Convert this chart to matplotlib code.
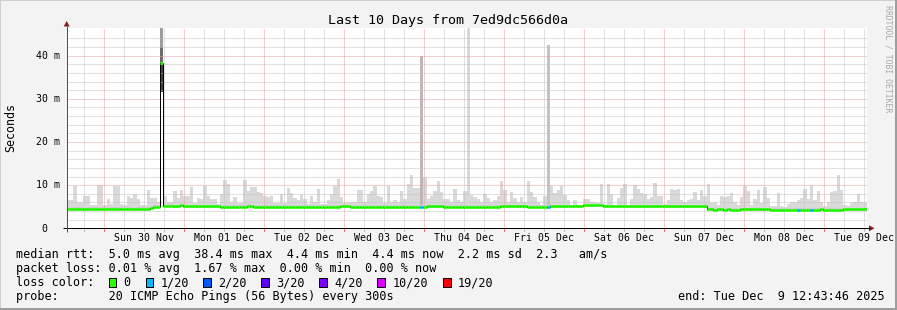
import matplotlib
matplotlib.use("Agg")
import matplotlib.pyplot as plt
from matplotlib.patches import Rectangle, Polygon
import matplotlib.transforms as mtransforms

plt.rcParams['font.family'] = ['DejaVu Sans Mono', 'DejaVu Sans']

# ---------------- data ----------------
title = "Last 10 Days from 7ed9dc566d0a"
day_labels = ["Sun 30 Nov", "Mon 01 Dec", "Tue 02 Dec", "Wed 03 Dec", "Thu 04 Dec",
              "Fri 05 Dec", "Sat 06 Dec", "Sun 07 Dec", "Mon 08 Dec", "Tue 09 Dec"]
first_midnight_h = 11.27   # hours after start (start = Sat Nov 29 12:43:46)
ytick_values = [0, 10, 20, 30, 40]
ytick_labels = ["0", "10 m", "20 m", "30 m", "40 m"]

# hourly smoke top (ms), 240 bins
smoke_top_a = [6.5, 6.5, 9.7, 6.2, 6.2, 7.6, 7.6, 5.3, 5.3, 10.1, 10.1, 5.3, 6.7, 5.7, 9.7, 9.7,
               5.7, 5.5, 7.4, 7.1, 8.0, 6.7, 5.5, 5.5, 8.8, 7.0, 7.0, 6.2, 46.4, 7.6, 6.2, 6.2,
               8.6, 7.0, 8.8, 7.4, 7.4, 9.6, 5.9, 7.0, 6.9, 9.9, 7.6, 6.9, 6.9, 5.7, 8.0, 11.1]
smoke_top_b = [10.3, 6.1, 7.2, 5.9, 5.9, 11.1, 8.6, 9.6, 9.6, 8.4, 8.2, 7.4, 7.2, 7.6, 5.9, 5.9,
               8.0, 5.9, 9.4, 8.2, 7.0, 6.5, 7.8, 6.7, 5.7, 7.6, 6.1, 9.0, 5.7, 5.7, 6.5, 8.0,
               9.9, 11.5, 7.2, 5.9, 6.1, 6.2, 6.1, 8.8, 8.9, 6.1, 8.0, 8.6, 9.7, 7.4, 7.2, 5.9]
smoke_top_c = [9.8, 6.2, 6.5, 6.1, 8.6, 6.9, 10.3, 12.3, 9.3, 9.3, 40.0, 11.9, 6.9, 7.6, 8.6, 10.9,
               8.4, 6.9, 6.7, 6.2, 9.0, 6.5, 6.1, 8.6, 46.4, 7.8, 7.2, 6.9, 6.1, 8.0, 7.0, 6.1,
               6.5, 7.6, 10.9, 8.8, 6.2, 8.4, 7.0, 6.1, 7.2, 6.1, 10.9, 8.4, 7.2, 6.1, 5.3, 7.6]
smoke_top_d = [42.5, 9.8, 8.2, 8.8, 9.8, 7.8, 6.5, 5.5, 6.5, 5.5, 5.5, 6.9, 6.7, 6.2, 6.2, 5.9,
               10.2, 5.5, 10.2, 8.0, 5.5, 7.1, 9.4, 10.2, 5.5, 6.9, 10.1, 9.0, 8.2, 8.0, 6.7, 7.2,
               10.6, 7.5, 7.6, 5.7, 6.5, 9.2, 8.8, 9.2, 6.5, 6.1, 6.5, 6.7, 8.4, 6.5, 8.8, 7.6]
smoke_top_e = [10.3, 5.9, 6.2, 5.5, 7.6, 7.2, 7.5, 8.2, 6.2, 5.5, 7.2, 9.8, 8.6, 5.5, 6.7, 8.8,
               5.9, 9.6, 7.1, 5.2, 5.2, 8.2, 5.2, 4.9, 5.7, 6.2, 6.2, 6.6, 7.0, 9.2, 6.9, 10.1,
               6.5, 8.6, 6.2, 5.2, 6.2, 8.4, 8.6, 12.3, 8.8, 5.3, 5.2, 5.9, 6.2, 8.0, 6.2, 6.2]

# hourly median rtt (ms)
median_a = [4.5, 4.5, 4.5, 4.5, 4.5, 4.4, 4.5, 4.5, 4.5, 4.5, 4.5, 4.5, 4.5, 4.5, 4.5, 4.5,
            4.5, 4.5, 4.5, 4.5, 4.4, 4.5, 4.5, 4.5, 4.5, 4.7, 5.0, 5.0, 38.4, 5.2, 5.2, 5.2,
            5.1, 5.1, 5.3, 5.1, 5.1, 5.1, 5.1, 5.1, 5.1, 5.1, 5.1, 5.1, 5.1, 5.1, 5.0, 5.0]
median_b = [5.0, 5.0, 5.0, 5.0, 5.0, 5.0, 5.2, 5.1, 5.0, 5.0, 4.9, 5.0, 5.0, 5.0, 5.0, 5.0,
            5.0, 5.0, 5.0, 5.0, 5.0, 5.0, 5.0, 5.0, 5.0, 5.0, 5.0, 5.0, 5.0, 5.0, 5.0, 5.0,
            5.0, 5.0, 5.1, 5.1, 5.1, 5.0, 5.0, 5.0, 5.0, 5.0, 5.0, 5.0, 5.0, 5.0, 5.0, 5.0]
median_c = [5.0, 5.0, 5.0, 5.0, 5.0, 5.0, 5.0, 5.0, 5.0, 5.0, 5.0, 5.0, 5.1, 5.1, 5.1, 5.1,
            5.1, 5.0, 5.0, 5.0, 5.0, 5.0, 5.0, 5.0, 5.0, 5.0, 5.0, 5.0, 5.0, 5.0, 5.0, 5.0,
            5.0, 5.0, 5.1, 5.1, 5.1, 5.1, 5.1, 5.1, 5.1, 5.1, 5.0, 5.0, 5.0, 5.0, 5.0, 5.0]
median_d = [5.0, 5.1, 5.1, 5.1, 5.1, 5.1, 5.1, 5.1, 5.1, 5.1, 5.1, 5.3, 5.3, 5.3, 5.3, 5.3,
            5.3, 5.1, 5.1, 5.1, 5.1, 5.1, 5.1, 5.1, 5.1, 5.1, 5.1, 5.1, 5.1, 5.1, 5.1, 5.1,
            5.1, 5.1, 5.1, 5.1, 5.1, 5.1, 5.1, 5.1, 5.1, 5.1, 5.1, 5.1, 5.1, 5.1, 5.1, 5.1]
median_e = [4.4, 4.4, 4.2, 4.4, 4.4, 4.2, 4.4, 4.2, 4.2, 4.2, 4.4, 4.4, 4.4, 4.4, 4.4, 4.4,
            4.4, 4.4, 4.4, 4.2, 4.2, 4.2, 4.2, 4.2, 4.2, 4.2, 4.3, 4.3, 4.3, 4.3, 4.3, 4.2,
            4.3, 4.3, 4.4, 4.2, 4.2, 4.3, 4.3, 4.3, 4.2, 4.4, 4.4, 4.4, 4.4, 4.4, 4.4, 4.4]

# bins with packet loss (count of lost pings out of 20)
loss_index = [106, 144, 219, 223]
loss_count = [1, 1, 1, 1]

# dense smoke inside the big Nov 30 spike (bin, low, high)
spike_bin = [28, 28, 28]
spike_low = [31.5, 38.4, 42.0]
spike_high = [38.4, 42.0, 46.4]

loss_levels = [0, 1, 2, 3, 4, 10, 19]
loss_level_labels = ["0", "1/20", "2/20", "3/20", "4/20", "10/20", "19/20"]
loss_level_colors = ["#26ff00", "#00b8ff", "#0059ff", "#5e00ff", "#7e00ff", "#dd00ff", "#ff0000"]

legend_line1 = "median rtt:  5.0 ms avg  38.4 ms max  4.4 ms min  4.4 ms now  2.2 ms sd  2.3   am/s"
legend_line2 = "packet loss: 0.01 % avg  1.67 % max  0.00 % min  0.00 % now"
legend_line3 = "loss color:"
legend_line4 = "probe:       20 ICMP Echo Pings (56 Bytes) every 300s"
end_text = "end: Tue Dec  9 12:43:46 2025"

# ---------------- assemble ----------------
smoke_top = smoke_top_a + smoke_top_b + smoke_top_c + smoke_top_d + smoke_top_e
median = median_a + median_b + median_c + median_d + median_e
n = len(median)
loss = [0] * n
for i, c in zip(loss_index, loss_count):
    loss[i] = c


def loss_color(c):
    col = loss_level_colors[0]
    for lev, lc in zip(loss_levels, loss_level_colors):
        if c >= lev:
            col = lc
    return col


smoke_colors = ["#d9d9d9"] * n
smoke_colors[106] = "#b9b9b9"
smoke_colors[144] = "#c3c3c3"

# ---------------- figure ----------------
W, H = 897, 310
PX = 72 / 100.0
fig = plt.figure(figsize=(W / 100, H / 100), dpi=100, facecolor="#f3f3f3")
L, R, T, B = 66.7, 866.7, 28.3, 228.3
ax = fig.add_axes([L / W, 1 - B / H, (R - L) / W, (B - T) / H])
ax.set_facecolor("white")
YMAX = 46.35
ax.set_xlim(0, n)
ax.set_ylim(0, YMAX)
for s in ax.spines.values():
    s.set_visible(False)
ax.set_xticks([])
ax.set_yticks([])

edges = list(range(n + 1))
lows = [m - 0.3 for m in median]
ax.bar(range(n), [t - l for t, l in zip(smoke_top, lows)], bottom=lows, width=1.0,
       align="edge", color=smoke_colors, linewidth=0, zorder=1)
ax.bar(range(n), [0.7] * n, bottom=lows, width=1.0, align="edge",
       color="#cecece", linewidth=0, zorder=1.1)
spike_cols = ["#424242", "#6c6c6c", "#9c9c9c"]
ax.bar(spike_bin, [h - l for h, l in zip(spike_high, spike_low)], bottom=spike_low, width=1.0,
       align="edge", color=spike_cols, linewidth=0, zorder=1.2)

# grid (dotted)
minor_c, major_c = "#c2c2c2", "#eaa0a0"
for v in range(2, 46, 2):
    ax.axhline(v, color=major_c if v % 10 == 0 else minor_c, lw=PX, ls=(0, (1, 1)), zorder=2)
blend = mtransforms.blended_transform_factory(ax.transData, ax.transAxes)
xg = first_midnight_h - 6
while xg < n:
    if xg > 0:
        major = abs(((xg - first_midnight_h) / 24.0) - round((xg - first_midnight_h) / 24.0)) < 1e-6
        ax.axvline(xg, color=major_c if major else minor_c, lw=PX, ls=(0, (1, 1)), zorder=2)
        ax.plot([xg, xg], [0, -2.5 / 200], transform=blend, clip_on=False,
                color="#e07070" if major else "#b8b8b8", lw=PX, zorder=6)
    xg += 6

# median
ax.stairs(median, edges, baseline=None, color="#000000", lw=PX, zorder=3)
ax.hlines(median, edges[:-1], edges[1:], colors=[loss_color(c) for c in loss],
          lw=2.7 * PX, zorder=4, capstyle="butt")

# x labels
for k, lab in enumerate(day_labels):
    pos = first_midnight_h + 12 + 24 * k
    ax.text(pos, -(241 - B) / 200, lab, ha="center", va="baseline", fontsize=7.1,
            transform=blend, clip_on=False)

# y labels
blend_y = mtransforms.blended_transform_factory(ax.transAxes, ax.transData)
off = mtransforms.ScaledTranslation(0, -3.2 / 100, fig.dpi_scale_trans)
for v, lab in zip(ytick_values, ytick_labels):
    xr = 60.5 if " " in lab else 47.5
    ax.text((xr - L) / (R - L), v, lab, ha="right", va="baseline", fontsize=7.1,
            transform=blend_y + off, clip_on=False)

# ---------------- overlay (pixel coords) ----------------
ov = fig.add_axes([0, 0, 1, 1], zorder=10)
ov.set_xlim(0, W)
ov.set_ylim(H, 0)
ov.axis("off")
ov.patch.set_alpha(0)

ov.add_patch(Rectangle((0, 0), W, 1, color="#cfcfcf", lw=0))
ov.add_patch(Rectangle((0, 0), 1, H, color="#cfcfcf", lw=0))
ov.add_patch(Rectangle((0, H - 2), W, 2, color="#9e9e9e", lw=0))
ov.add_patch(Rectangle((W - 2, 0), 2, H, color="#9e9e9e", lw=0))

ov.plot([63, 869.5], [B, B], color="#000000", lw=PX, solid_capstyle="butt")
ov.plot([L, L], [231.5, 25.5], color="#505050", lw=PX, solid_capstyle="butt")
ov.add_patch(Polygon([(869, B - 3), (869, B + 3), (874.5, B)], closed=True, color="#8b1c1c", lw=0))
ov.add_patch(Polygon([(L - 3, 26.5), (L + 3, 26.5), (L, 21)], closed=True, color="#8b1c1c", lw=0))

ov.text(448.5, 24, title, ha="center", va="baseline", fontsize=9.6)
ov.text(11, 127, "Seconds", rotation=90, ha="center", va="center", fontsize=8.4)
ov.text(888, 59, "RRDTOOL / TOBI OETIKER", rotation=270, ha="center", va="center",
        fontsize=5.9, color="#a8a8a8")

FS = 8.5
ov.text(16, 258.3, legend_line1, ha="left", va="baseline", fontsize=FS)
ov.text(16, 272.3, legend_line2, ha="left", va="baseline", fontsize=FS)
ov.text(16, 286.3, legend_line3, ha="left", va="baseline", fontsize=FS)
sq_x = [108.7, 145.7, 203.3, 261.3, 319.3, 377.3, 443.3]
tx_x = [123.3, 161.0, 218.3, 276.0, 334.0, 392.3, 457.3]
for sx, tx, lab, col in zip(sq_x, tx_x, loss_level_labels, loss_level_colors):
    ov.add_patch(Rectangle((sx, 278.0), 7.3, 8.6, facecolor=col, edgecolor="black", lw=PX))
    ov.text(tx, 286.3, lab, ha="left", va="baseline", fontsize=FS)
ov.text(16, 300.0, legend_line4, ha="left", va="baseline", fontsize=FS)
ov.text(678.3, 300.0, end_text, ha="left", va="baseline", fontsize=FS)

fig.savefig("out.png", dpi=100, facecolor=fig.get_facecolor())
